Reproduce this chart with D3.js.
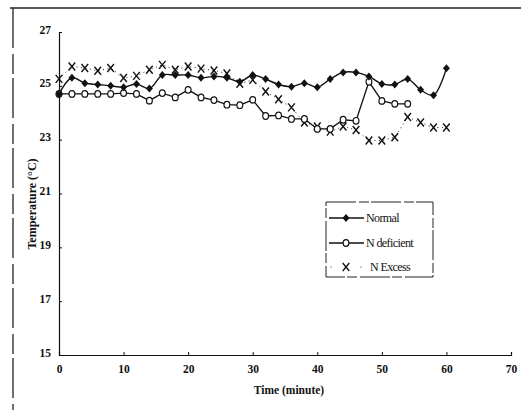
<!DOCTYPE html>
<html>
<head>
<meta charset="utf-8">
<script src="https://cdn.jsdelivr.net/npm/d3@7"></script>
<style>
  body { margin: 0; background: #fff; }
  svg text { font-family: "Liberation Serif", "DejaVu Serif", serif; }
</style>
</head>
<body>
<script>
// data (time in minutes, temperature in °C)
var times = [0,2,4,6,8,10,12,14,16,18,20,22,24,26,28,30,32,34,36,38,40,42,44,46,48,50,52,54,56,58,60];
var normal = [24.7,25.3,25.1,25.05,25.0,24.95,25.07,24.9,25.4,25.4,25.4,25.3,25.35,25.3,25.15,25.4,25.25,
              25.05,24.97,25.1,24.95,25.25,25.5,25.5,25.35,25.07,25.05,25.25,24.85,24.65,25.65];
var nDeficient = [24.7,24.7,24.7,24.7,24.7,24.73,24.7,24.45,24.73,24.57,24.85,24.57,24.47,24.3,24.28,24.48,23.88,
                  23.9,23.77,23.77,23.4,23.4,23.74,23.7,25.15,24.44,24.33,24.33];
var nExcess = [25.26,25.72,25.66,25.56,25.66,25.29,25.37,25.6,25.78,25.6,25.72,25.64,25.57,25.46,25.08,25.22,24.79,
               24.5,24.2,23.64,23.49,23.3,23.49,23.36,22.97,22.97,23.09,23.84,23.64,23.45,23.45];
var xTicks = [0,10,20,30,40,50,60,70];
var yTicks = [15,17,19,21,23,25,27];
var seriesNames = ["Normal", "N deficient", "N Excess"];

var W = 527, H = 412;
var svg = d3.select('body').append('svg')
            .attr('width', W)
            .attr('height', H);

// outer frame (top and left edges only, as in the scan)
svg.append('line').attr('x1', 10).attr('x2', 521).attr('y1', 8).attr('y2', 8)
   .attr('stroke', '#222').attr('stroke-width', 1.3);
svg.append('line').attr('x1', 13).attr('x2', 13).attr('y1', 8).attr('y2', 410)
   .attr('stroke', '#222').attr('stroke-width', 1.3).attr('stroke-dasharray', '40,6,20,4');

var x = d3.scaleLinear().domain([0, 70]).range([59, 511]);
var y = d3.scaleLinear().domain([15, 27]).range([355, 32]);

//axes
var xAxis = d3.axisBottom(x).tickValues(xTicks).tickSize(-3).tickPadding(10);
var yAxis = d3.axisLeft(y).tickValues(yTicks).tickSize(-3).tickPadding(8);

var gx = svg.append('g').attr('transform', 'translate(0,' + y(15) + ')').call(xAxis);
var gy = svg.append('g').attr('transform', 'translate(' + x(0) + ',0)').call(yAxis);
[gx, gy].forEach(function (g) {
  g.select('.domain').attr('stroke', '#111').attr('stroke-width', 1.2);
  g.selectAll('.tick line').attr('stroke', '#111');
  g.selectAll('.tick text')
   .style('font-size', '11.5px')
   .style('font-weight', 'bold')
   .attr('fill', '#111');
});
gy.selectAll('.tick text').attr('dy', '0.1em');

svg.append('text')
   .text('Time (minute)')
   .attr('x', 289).attr('y', 394)
   .style('font-size', '11.5px').style('font-weight', 'bold')
   .style('text-anchor', 'middle').attr('fill', '#111');
svg.append('text')
   .text('Temperature (°C)')
   .attr('transform', 'translate(36,204) rotate(-90)')
   .style('font-size', '12px').style('font-weight', 'bold')
   .style('text-anchor', 'middle').attr('fill', '#111');

var line = d3.line().x(function (d) { return x(d[0]); }).y(function (d) { return y(d[1]); });
function pairs(vals) { return vals.map(function (v, i) { return [times[i], v]; }); }
var xMark = 'M-3.3,-4L3.3,4M-3.3,4L3.3,-4';
var diamond = 'M0,-4L3.5,0L0,4L-3.5,0Z';

var plot = svg.append('g');

// N Excess: dotted line with x markers
var ex = pairs(nExcess);
plot.append('path').datum(ex).attr('d', line)
    .attr('fill', 'none').attr('stroke', '#222').attr('stroke-width', 1)
    .attr('stroke-dasharray', '1,3.5');
plot.selectAll('.xm').data(ex).enter().append('path')
    .attr('class', 'xm')
    .attr('d', xMark)
    .attr('transform', function (d) { return 'translate(' + x(d[0]) + ',' + y(d[1]) + ')'; })
    .attr('fill', 'none').attr('stroke', '#111').attr('stroke-width', 1.4);

// N deficient: solid line, open circles
var de = pairs(nDeficient);
plot.append('path').datum(de).attr('d', line)
    .attr('fill', 'none').attr('stroke', '#111').attr('stroke-width', 1.3);
plot.selectAll('.cm').data(de).enter().append('ellipse')
    .attr('cx', function (d) { return x(d[0]); })
    .attr('cy', function (d) { return y(d[1]); })
    .attr('rx', 2.9).attr('ry', 3.3)
    .attr('fill', '#fff').attr('stroke', '#111').attr('stroke-width', 1.2);

// Normal: solid line, filled diamonds
var no = pairs(normal);
plot.append('path').datum(no).attr('d', d3.line().curve(d3.curveCatmullRom)
      .x(function (d) { return x(d[0]); }).y(function (d) { return y(d[1]); }))
    .attr('fill', 'none').attr('stroke', '#111').attr('stroke-width', 1.4);
plot.selectAll('.dm').data(no).enter().append('path')
    .attr('d', diamond)
    .attr('transform', function (d) { return 'translate(' + x(d[0]) + ',' + y(d[1]) + ')'; })
    .attr('fill', '#111');

//legend
var legend = svg.append('g').attr('transform', 'translate(326,202)');
legend.append('rect').attr('width', 107).attr('height', 75)
      .attr('fill', '#fff').attr('stroke', '#222').attr('stroke-width', 1)
      .attr('stroke-dasharray', '30,3,10,2');
var rows = [16, 41, 65];
rows.forEach(function (ry, i) {
  var row = legend.append('g').attr('transform', 'translate(0,' + ry + ')');
  if (i < 2) {
    row.append('line').attr('x1', 3).attr('x2', 38).attr('stroke', '#111').attr('stroke-width', 1.3);
  }
  if (i === 0) {
    row.append('path').attr('d', diamond)
       .attr('transform', 'translate(20,0)').attr('fill', '#111');
  } else if (i === 1) {
    row.append('ellipse').attr('cx', 20).attr('rx', 2.9).attr('ry', 3.3)
       .attr('fill', '#fff').attr('stroke', '#111').attr('stroke-width', 1.2);
  } else {
    row.append('circle').attr('cx', 5).attr('r', 0.6).attr('fill', '#111');
    row.append('circle').attr('cx', 35).attr('r', 0.6).attr('fill', '#111');
    row.append('path').attr('d', xMark)
       .attr('transform', 'translate(20,0)')
       .attr('fill', 'none').attr('stroke', '#111').attr('stroke-width', 1.3);
  }
  row.append('text').text(seriesNames[i])
     .attr('x', i === 2 ? 44 : 40).attr('y', 4)
     .style('font-size', '12px').style('letter-spacing', '-0.6px')
     .attr('fill', '#111');
});
</script>
</body>
</html>
